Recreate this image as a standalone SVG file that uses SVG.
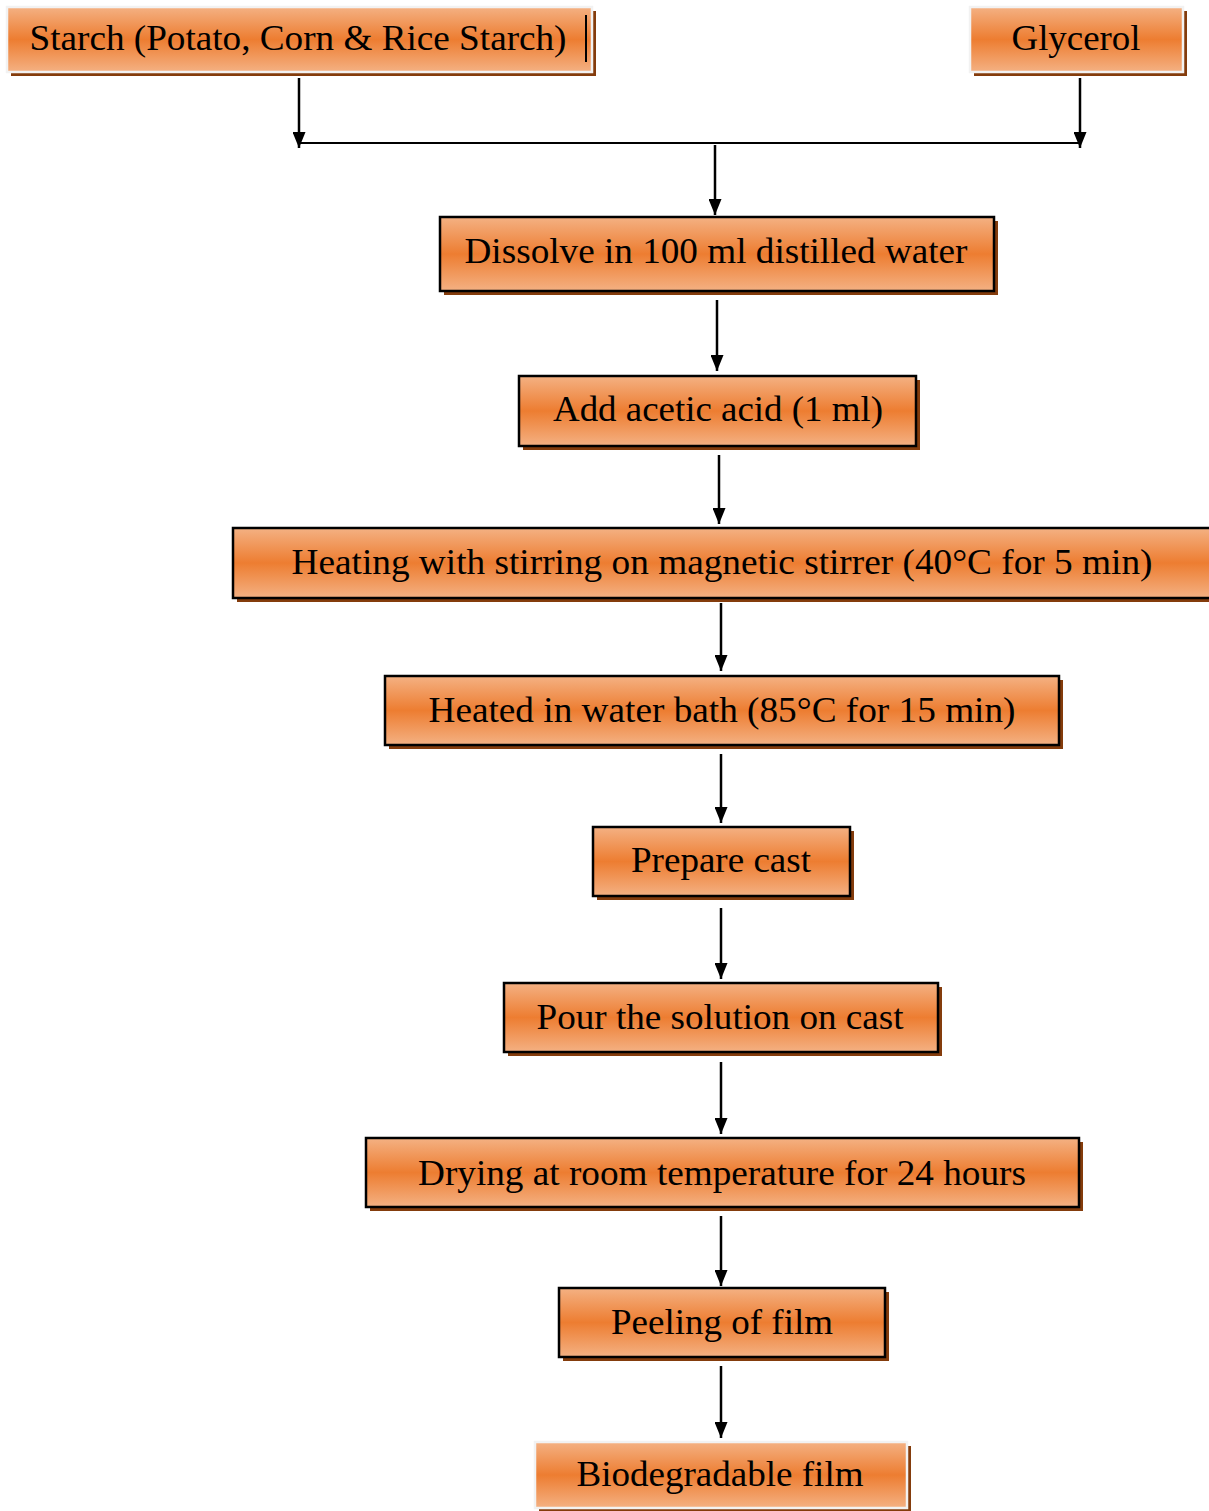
<svg xmlns="http://www.w3.org/2000/svg" width="1209" height="1511" viewBox="0 0 1209 1511">
<defs>
<linearGradient id="g" x1="0" y1="0" x2="0" y2="1">
<stop offset="0" stop-color="#F4B183"/>
<stop offset="0.5" stop-color="#ED7D31"/>
<stop offset="1" stop-color="#F4B183"/>
</linearGradient>
<marker id="ah" viewBox="0 0 16 13" refX="16" refY="6.5" markerWidth="16" markerHeight="13" markerUnits="userSpaceOnUse" orient="auto">
<path d="M0,0 L16,6.5 L0,13 Z" fill="#000"/>
</marker>
<style>
.sh{fill:#843C0C}
.bx{fill:url(#g);stroke:#000;stroke-width:2.5}
.bw{fill:url(#g);stroke:#F2F2F2;stroke-width:2.5}
.t{font-family:"Liberation Serif","Times New Roman",serif;font-size:36px;fill:#000;text-anchor:middle}
.c{stroke:#000;stroke-width:2;fill:none}
.ca{stroke:#000;stroke-width:2.5;fill:none;marker-end:url(#ah)}
</style>
</defs>
<rect width="1209" height="1511" fill="#fff"/>
<g id="connectors">
<line class="ca" x1="299" y1="78" x2="299" y2="148"/>
<line class="ca" x1="1080" y1="78" x2="1080" y2="148"/>
<line class="c" x1="299" y1="143" x2="1080" y2="143" stroke-width="1.5"/>
<line class="ca" x1="715" y1="145" x2="715" y2="215"/>
<line class="ca" x1="717" y1="300" x2="717" y2="371"/>
<line class="ca" x1="719" y1="455" x2="719" y2="524"/>
<line class="ca" x1="721" y1="603" x2="721" y2="671"/>
<line class="ca" x1="721" y1="754" x2="721" y2="823"/>
<line class="ca" x1="721" y1="908" x2="721" y2="979"/>
<line class="ca" x1="721" y1="1062" x2="721" y2="1134"/>
<line class="ca" x1="721" y1="1216" x2="721" y2="1286"/>
<line class="ca" x1="721" y1="1366" x2="721" y2="1438"/>
</g>
<g id="starch">
<rect class="sh" x="11" y="11" width="585" height="65"/>
<rect class="bw" x="7" y="7" width="585" height="65"/>
<text class="t" x="298" y="50" textLength="537" lengthAdjust="spacingAndGlyphs">Starch (Potato, Corn &amp; Rice Starch)</text>
<line x1="586" y1="15" x2="586" y2="62" stroke="#000" stroke-width="2"/>
</g>
<g id="glycerol">
<rect class="sh" x="974" y="11" width="213" height="65"/>
<rect class="bw" x="970" y="7" width="213" height="65"/>
<text class="t" x="1076" y="50" textLength="129" lengthAdjust="spacingAndGlyphs">Glycerol</text>
</g>
<g id="dissolve">
<rect class="sh" x="444" y="221" width="554" height="74"/>
<rect class="bx" x="440" y="217" width="554" height="74"/>
<text class="t" x="716" y="263" textLength="503" lengthAdjust="spacingAndGlyphs">Dissolve in 100 ml distilled water</text>
</g>
<g id="acetic">
<rect class="sh" x="523" y="380" width="397" height="70"/>
<rect class="bx" x="519" y="376" width="397" height="70"/>
<text class="t" x="718" y="421" textLength="330" lengthAdjust="spacingAndGlyphs">Add acetic acid (1 ml)</text>
</g>
<g id="heating">
<rect class="sh" x="237" y="532" width="985" height="70"/>
<rect class="bx" x="233" y="528" width="985" height="70"/>
<text class="t" x="722" y="574" textLength="861" lengthAdjust="spacingAndGlyphs">Heating with stirring on magnetic stirrer (40°C for 5 min)</text>
</g>
<g id="waterbath">
<rect class="sh" x="389" y="680" width="674" height="69"/>
<rect class="bx" x="385" y="676" width="674" height="69"/>
<text class="t" x="722" y="722" textLength="587" lengthAdjust="spacingAndGlyphs">Heated in water bath (85°C for 15 min)</text>
</g>
<g id="cast">
<rect class="sh" x="597" y="831" width="257" height="69"/>
<rect class="bx" x="593" y="827" width="257" height="69"/>
<text class="t" x="721" y="872" textLength="180" lengthAdjust="spacingAndGlyphs">Prepare cast</text>
</g>
<g id="pour">
<rect class="sh" x="508" y="987" width="434" height="69"/>
<rect class="bx" x="504" y="983" width="434" height="69"/>
<text class="t" x="720" y="1029" textLength="367" lengthAdjust="spacingAndGlyphs">Pour the solution on cast</text>
</g>
<g id="drying">
<rect class="sh" x="370" y="1142" width="713" height="69"/>
<rect class="bx" x="366" y="1138" width="713" height="69"/>
<text class="t" x="722" y="1185" textLength="608" lengthAdjust="spacingAndGlyphs">Drying at room temperature for 24 hours</text>
</g>
<g id="peeling">
<rect class="sh" x="563" y="1292" width="326" height="69"/>
<rect class="bx" x="559" y="1288" width="326" height="69"/>
<text class="t" x="722" y="1334" textLength="222" lengthAdjust="spacingAndGlyphs">Peeling of film</text>
</g>
<g id="film">
<rect class="sh" x="539" y="1446" width="372" height="66"/>
<rect class="bw" x="535" y="1442" width="372" height="66" stroke-width="4"/>
<text class="t" x="720" y="1486" textLength="287" lengthAdjust="spacingAndGlyphs">Biodegradable film</text>
</g>
</svg>
